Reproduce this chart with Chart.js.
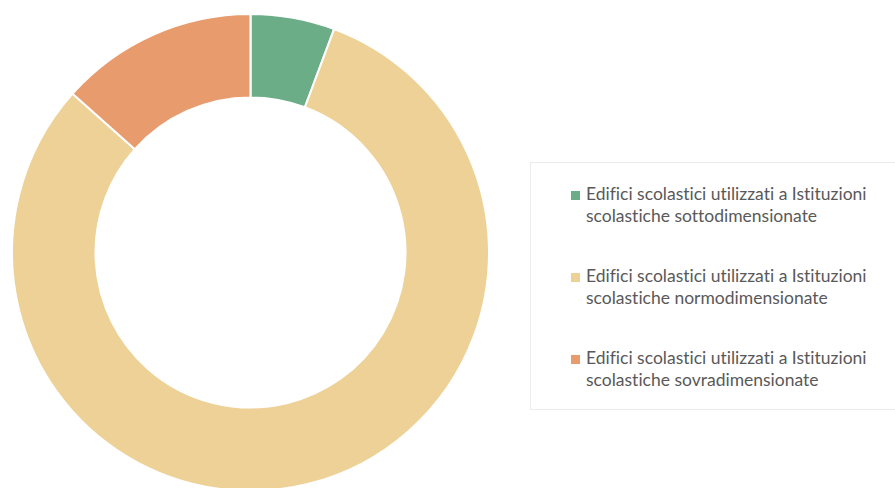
<!DOCTYPE html>
<html>
<head>
<meta charset="utf-8">
<script src="https://cdn.jsdelivr.net/npm/chart.js@4/dist/chart.umd.min.js"></script>
<style>
  html, body { margin: 0; padding: 0; background: #fff; overflow: hidden; }
  body { width: 895px; height: 488px; position: relative; }
  #chart-wrap { position: absolute; left: 11px; top: 13px; width: 479px; height: 479px; }
  #legend {
    position: absolute; left: 530px; top: 162px; width: 380px; height: 248px;
    border: 1px solid #ececec; box-sizing: border-box;
    font-family: Lato, sans-serif; font-size: 17.5px; color: #595959;
    font-variant-ligatures: none;
  }
  #legend .item { position: absolute; left: 55px; width: 330px; line-height: 22px; }
  #legend .box { position: absolute; left: -15px; top: 8px; width: 9px; height: 9px; }
</style>
</head>
<body>
<div id="chart-wrap"><canvas id="donut"></canvas></div>
<div id="legend"></div>
<script>
// categories (legend text, two lines each)
const labels = [
  ['Edifici scolastici utilizzati a Istituzioni', 'scolastiche sottodimensionate'],
  ['Edifici scolastici utilizzati a Istituzioni', 'scolastiche normodimensionate'],
  ['Edifici scolastici utilizzati a Istituzioni', 'scolastiche sovradimensionate']
];
// share of buildings (%)
const values = [5.7, 80.9, 13.4];
const colors = ['#6aad87', '#edd196', '#e89b6c'];

const ctx = document.getElementById('donut').getContext('2d');
const chart = new Chart(ctx, {
  type: 'doughnut',
  data: {
    labels: labels.map(l => l.join(' ')),
    datasets: [{
      data: values,
      backgroundColor: colors,
      borderColor: '#ffffff',
      borderWidth: 2
    }]
  },
  options: {
    responsive: true,
    maintainAspectRatio: false,
    animation: false,
    cutout: '65%',
    layout: { padding: 0 },
    plugins: {
      legend: { display: false },
      tooltip: { enabled: false }
    }
  }
});

// legend built from the same arrays
const legend = document.getElementById('legend');
labels.forEach((lines, i) => {
  const item = document.createElement('div');
  item.className = 'item';
  item.style.top = (20 + i * 82) + 'px';
  item.innerHTML = `<span class="box" style="background:${colors[i]}"></span>${lines.join('<br>')}`;
  legend.appendChild(item);
});
</script>
</body>
</html>
